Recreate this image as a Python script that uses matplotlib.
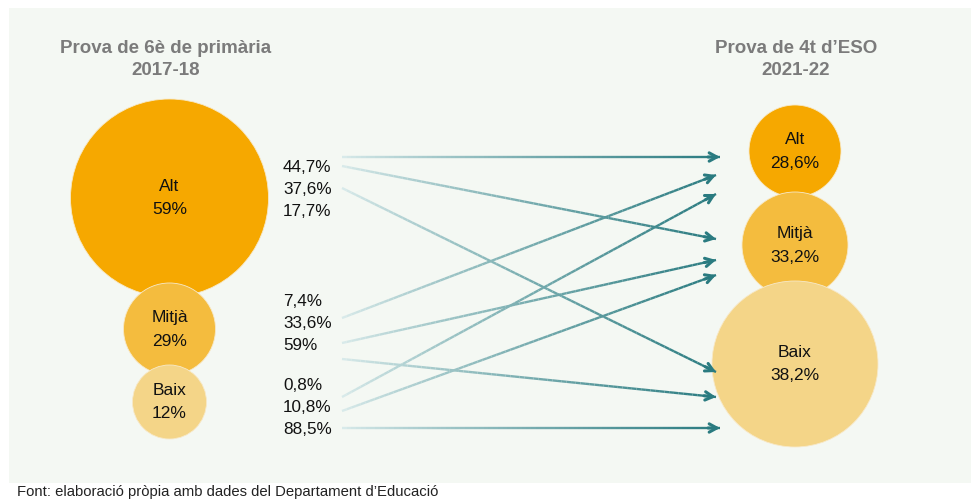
import matplotlib
matplotlib.use("Agg")
import matplotlib.pyplot as plt
import numpy as np
from matplotlib.patches import Circle, Rectangle
from matplotlib.collections import LineCollection
from matplotlib.colors import to_rgb

# ---------------- data ----------------
levels = ["Alt", "Mitjà", "Baix"]
share_2017 = [59, 29, 12]            # % level in 6è primària 2017-18
share_2021 = [28.6, 33.2, 38.2]      # % level in 4t ESO 2021-22
# transitions: row = level 2017-18, column = level 2021-22 (%)
from_alt = [44.7, 37.6, 17.7]
from_mitja = [7.4, 33.6, 59]
from_baix = [0.8, 10.8, 88.5]
transitions = [from_alt, from_mitja, from_baix]

title_left = "Prova de 6è de primària\n2017-18"
title_right = "Prova de 4t d’ESO\n2021-22"
source_note = "Font: elaboració pròpia amb dades del Departament d’Educació"

# ---------------- layout (pixels) ----------------
W, H = 971, 500
left_cx, right_cx = 169.5, 795
left_cy = [198, 329, 402]
left_r = [99, 46, 37]
right_cy = [151, 245, 364]
right_r = [46, 53, 83]
circle_colors = ["#f6a800", "#f4bc3e", "#f4d588"]

label_x = 283
label_y0 = [167, 301, 386]
label_dy = 22

arrow_x0, arrow_x1 = 342, 720
start_y = [[157, 166, 188], [318, 343, 359], [397, 411, 428]]
end_y_by_target = [[157, 175, 194], [239, 260, 275], [372, 397, 428]]

dark = np.array(to_rgb("#2a7b80"))
light = np.array(to_rgb("#d8eaea"))

def fmt(v):
    s = f"{v:g}".replace(".", ",")
    return s + "%"

fig = plt.figure(figsize=(W / 100, H / 100), dpi=100)
fig.patch.set_facecolor("white")
ax = fig.add_axes([0, 0, 1, 1])
ax.set_xlim(0, W)
ax.set_ylim(H, 0)
ax.axis("off")

ax.add_patch(Rectangle((9, 8), W - 9, 475, facecolor="#f4f8f3", edgecolor="none", zorder=0))

FONT = "Liberation Sans"

# titles
ax.text(166, 59.5, title_left, ha="center", va="center", fontsize=13.5, fontweight="bold",
        color="#7b7b7b", family=FONT, linespacing=1.4)
ax.text(796, 59.5, title_right, ha="center", va="center", fontsize=13.5, fontweight="bold",
        color="#7b7b7b", family=FONT, linespacing=1.4)

# circles
for i, lvl in enumerate(levels):
    ax.add_patch(Circle((left_cx, left_cy[i]), left_r[i], facecolor=circle_colors[i],
                        edgecolor="#f7e9c8", lw=0.6, zorder=2 + i))
    ax.text(left_cx, left_cy[i] - 11.5, lvl, ha="center", va="center", fontsize=12.5,
            family=FONT, color="#111111", zorder=10)
    ax.text(left_cx, left_cy[i] + 12, fmt(share_2017[i]), ha="center", va="center",
            fontsize=12.5, family=FONT, color="#111111", zorder=10)

    ax.add_patch(Circle((right_cx, right_cy[i]), right_r[i], facecolor=circle_colors[i],
                        edgecolor="#f7e9c8", lw=0.6, zorder=2 + i))
    ax.text(right_cx, right_cy[i] - 11.5, lvl, ha="center", va="center", fontsize=12.5,
            family=FONT, color="#111111", zorder=10)
    ax.text(right_cx, right_cy[i] + 12, fmt(share_2021[i]), ha="center", va="center",
            fontsize=12.5, family=FONT, color="#111111", zorder=10)

# transition labels and arrows
nseg = 80
for s, row in enumerate(transitions):
    for t, val in enumerate(row):
        ax.text(label_x, label_y0[s] + t * label_dy, fmt(val), ha="left", va="center",
                fontsize=12.3, family=FONT, color="#111111", zorder=10)
        y0 = start_y[s][t]
        y1 = end_y_by_target[t][s]
        x1 = arrow_x1 if y0 == y1 else arrow_x1 - 4
        xs = np.linspace(arrow_x0, x1, nseg + 1)
        ys = np.linspace(y0, y1, nseg + 1)
        segs = [[(xs[k], ys[k]), (xs[k + 1], ys[k + 1])] for k in range(nseg)]
        f = np.linspace(0, 1, nseg) ** 0.85
        cols = [tuple(light * (1 - a) + dark * a) for a in f]
        lc = LineCollection(segs, colors=cols, linewidths=1.7, zorder=6, capstyle="butt")
        ax.add_collection(lc)
        d = np.array([x1 - arrow_x0, y1 - y0])
        d = d / np.hypot(*d)
        back = np.array([x1, y1]) - d * 12
        ax.annotate("", xy=(x1, y1), xytext=(back[0], back[1]),
                    arrowprops=dict(arrowstyle="->,head_length=0.55,head_width=0.3",
                                    color=tuple(dark), lw=2.2, shrinkA=0, shrinkB=0),
                    zorder=7)

ax.text(17, 492, source_note, ha="left", va="center", fontsize=10.7, family=FONT,
        color="#222222")

fig.savefig("out.png", dpi=100, facecolor="white")
